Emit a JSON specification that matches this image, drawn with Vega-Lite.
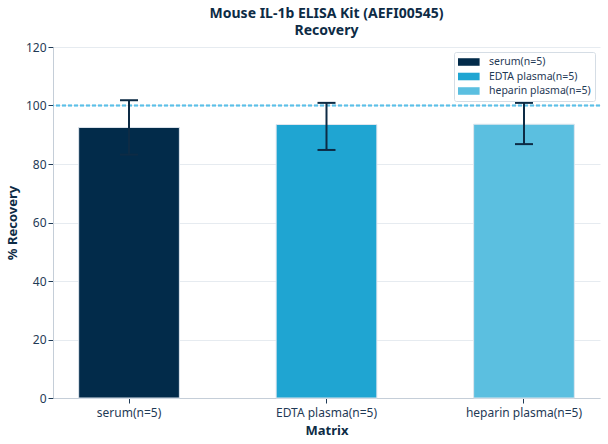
{
  "$schema": "https://vega.github.io/schema/vega-lite/v6.json",
  "width": 547,
  "height": 351,
  "autosize": {"type": "none"},
  "padding": {"left": 53, "top": 47, "right": 8, "bottom": 46},
  "background": "white",
  "config": {
    "font": "Noto Sans",
    "view": {"stroke": null},
    "axis": {
      "labelFont": "Noto Sans",
      "titleFont": "Noto Sans",
      "labelFontSize": 12,
      "labelColor": "#1f3a56",
      "titleFontSize": 13,
      "titleFontWeight": "bold",
      "titleColor": "#0d2b45",
      "domainColor": "#c5ced8",
      "tickColor": "#1f3a56",
      "gridColor": "#e6ebf0"
    }
  },
  "title": {
    "text": ["Mouse IL-1b ELISA Kit (AEFI00545)", "Recovery"],
    "fontSize": 14,
    "fontWeight": "bold",
    "color": "#0d2b45",
    "anchor": "middle",
    "lineHeight": 17,
    "offset": 3,
    "font": "Noto Sans"
  },
  "data": {
    "values": [
      {"matrix": "serum(n=5)", "mean": 92.5, "lo": 83.2, "hi": 101.8},
      {"matrix": "EDTA plasma(n=5)", "mean": 93.5, "lo": 84.8, "hi": 100.9},
      {"matrix": "heparin plasma(n=5)", "mean": 93.6, "lo": 86.8, "hi": 100.9}
    ]
  },
  "encoding": {
    "x": {
      "field": "matrix",
      "type": "nominal",
      "sort": ["serum(n=5)", "EDTA plasma(n=5)", "heparin plasma(n=5)"],
      "scale": {"paddingInner": 0.49, "paddingOuter": 0.13},
      "axis": {"title": "Matrix", "labelAngle": 0, "labelPadding": 4, "titlePadding": 6, "grid": false}
    }
  },
  "layer": [
    {
      "mark": {"type": "bar", "stroke": "#dfe6ee", "strokeWidth": 1},
      "encoding": {
        "y": {
          "field": "mean",
          "type": "quantitative",
          "scale": {"domain": [0, 120], "nice": false},
          "axis": {"title": "% Recovery", "values": [0, 20, 40, 60, 80, 100, 120], "titlePadding": 6, "grid": true}
        },
        "color": {
          "field": "matrix",
          "type": "nominal",
          "scale": {
            "domain": ["serum(n=5)", "EDTA plasma(n=5)", "heparin plasma(n=5)"],
            "range": ["#022b4a", "#1fa5d2", "#5bbfe0"]
          },
          "legend": {
            "title": null,
            "orient": "top-right",
            "offset": 5,
            "fillColor": "white",
            "strokeColor": "#d5dde5",
            "padding": 4,
            "cornerRadius": 2,
            "labelFontSize": 10.5,
            "labelColor": "#1f3a56",
            "labelFont": "Noto Sans",
            "labelOffset": 19,
            "symbolOffset": 0,
            "symbolType": "M-1,-0.63H2.6V0.63H-1Z",
            "symbolSize": 144,
            "symbolStrokeWidth": 0,
            "rowPadding": 2.5
          }
        }
      }
    },
    {
      "mark": {"type": "rule", "stroke": "#5bc0e8", "strokeDash": [4, 2], "strokeWidth": 1.5},
      "encoding": {"y": {"datum": 100}, "x": null}
    },
    {
      "mark": {"type": "rule", "color": "#0d2b45", "strokeWidth": 2},
      "encoding": {"y": {"field": "lo", "type": "quantitative"}, "y2": {"field": "hi"}}
    },
    {
      "mark": {"type": "tick", "color": "#0d2b45", "thickness": 2, "size": 18, "opacity": 1},
      "encoding": {"y": {"field": "lo", "type": "quantitative"}}
    },
    {
      "mark": {"type": "tick", "color": "#0d2b45", "thickness": 2, "size": 18, "opacity": 1},
      "encoding": {"y": {"field": "hi", "type": "quantitative"}}
    }
  ]
}
